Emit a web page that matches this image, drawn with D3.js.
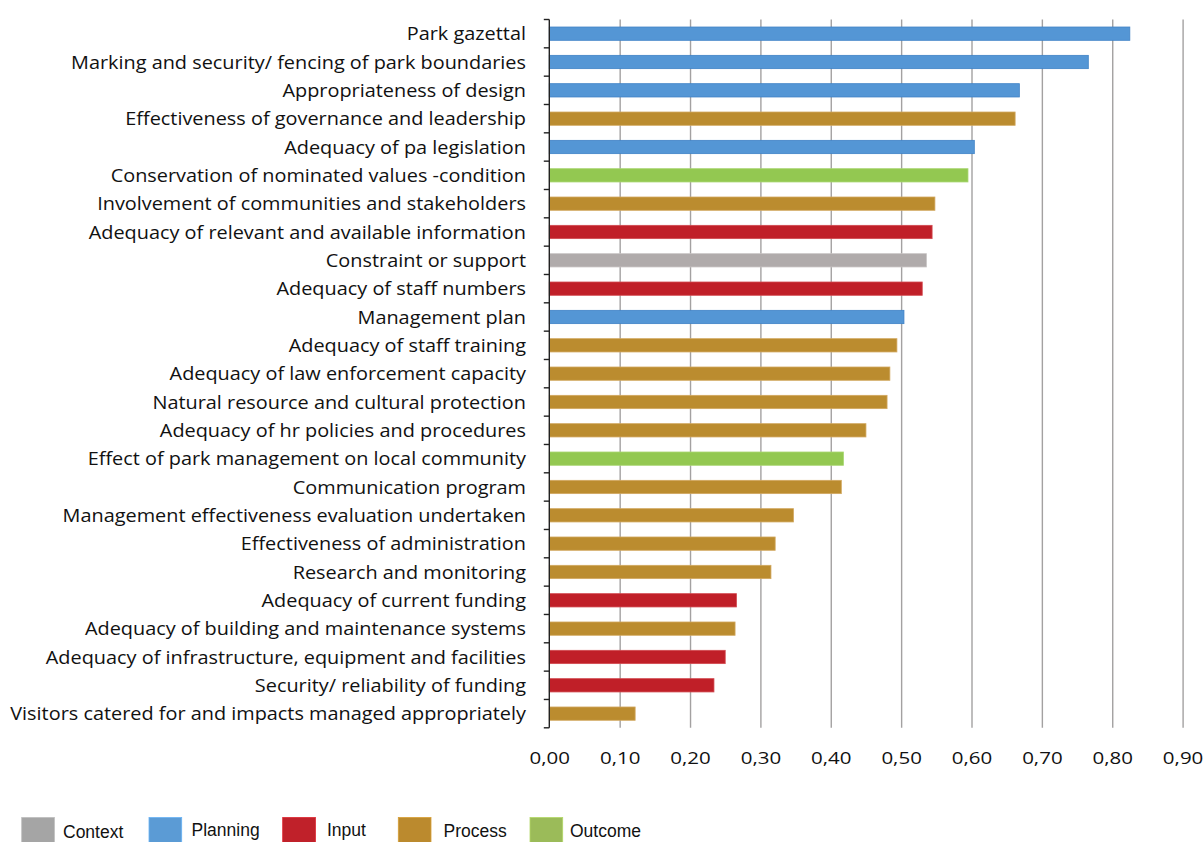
<!DOCTYPE html>
<html>
<head>
<meta charset="utf-8">
<script src="https://cdn.jsdelivr.net/npm/d3@7"></script>
<style>
  html, body { margin: 0; padding: 0; background: #ffffff; }
  svg { display: block; }
</style>
</head>
<body>
<svg id="chart" width="1203" height="842"></svg>
<script>
const categories = [
  "Park gazettal",
  "Marking and security/ fencing of park boundaries",
  "Appropriateness of design",
  "Effectiveness of governance and leadership",
  "Adequacy of pa legislation",
  "Conservation of nominated values -condition",
  "Involvement of communities and stakeholders",
  "Adequacy of relevant and available information",
  "Constraint or support",
  "Adequacy of staff numbers",
  "Management plan",
  "Adequacy of staff training",
  "Adequacy of law enforcement capacity",
  "Natural resource and cultural protection",
  "Adequacy of hr policies and procedures",
  "Effect of park management on local community",
  "Communication program",
  "Management effectiveness evaluation undertaken",
  "Effectiveness of administration",
  "Research and monitoring",
  "Adequacy of current funding",
  "Adequacy of building and maintenance systems",
  "Adequacy of infrastructure, equipment and facilities",
  "Security/ reliability of funding",
  "Visitors catered for and impacts managed appropriately"
];
const values = [0.825, 0.766, 0.668, 0.662, 0.604, 0.595, 0.548, 0.544, 0.536, 0.530,
  0.504, 0.494, 0.484, 0.480, 0.450, 0.418, 0.415, 0.347, 0.321, 0.315,
  0.266, 0.264, 0.250, 0.234, 0.122];
const groups = ["Planning", "Planning", "Planning", "Process", "Planning", "Outcome", "Process", "Input", "Context", "Input",
  "Planning", "Process", "Process", "Process", "Process", "Outcome", "Process", "Process", "Process", "Process",
  "Input", "Process", "Input", "Input", "Process"];
const legendGroups = ["Context", "Planning", "Input", "Process", "Outcome"];
const tickValues = [0, 0.1, 0.2, 0.3, 0.4, 0.5, 0.6, 0.7, 0.8, 0.9];
const tickLabels = ["0,00", "0,10", "0,20", "0,30", "0,40", "0,50", "0,60", "0,70", "0,80", "0,90"];

const barFill = { Context: "#b0abab", Planning: "#5496d5", Input: "#c01f28", Process: "#bb8c2f", Outcome: "#93c851" };
const barStroke = { Context: "#c9c5c5", Planning: "#3f82c6", Input: "#d24a50", Process: "#d2a860", Outcome: "#a9d673" };
const legendFill = { Context: "#a5a5a5", Planning: "#5b9bd5", Input: "#c0212a", Process: "#bb8a2e", Outcome: "#9bbb59" };

const svg = d3.select("#chart");
const m = { left: 549.3, right: 1182.6, top: 19.5, bottom: 727.8 };

const x = d3.scaleLinear().domain([0, 0.9]).range([m.left, m.right]);
const y = d3.scaleBand().domain(categories).range([m.top, m.bottom]).paddingInner(0).paddingOuter(0);
const bw = y.bandwidth();
const barH = 13.3;

// gridlines via axis
const grid = svg.append("g")
  .attr("transform", `translate(0,${m.bottom})`)
  .call(d3.axisBottom(x).tickValues(tickValues).tickSize(-(m.bottom - m.top)).tickFormat((d, i) => tickLabels[i]));
grid.select(".domain").remove();
grid.selectAll(".tick line").attr("stroke", "#a3a1a1").attr("stroke-width", 1.4);
grid.selectAll(".tick").filter(d => d === 0).select("line").remove();
grid.selectAll(".tick text")
  .attr("y", 0).attr("dy", null)
  .attr("font-family", "Open Sans")
  .attr("font-size", 17.2)
  .attr("fill", "#111");

(function() {
  const t = grid.selectAll(".tick text").nodes()[0];
  const w = t.getComputedTextLength();
  const sx = 40.5 / w;
  grid.selectAll(".tick text").attr("transform", `translate(0,35.8) scale(${sx},1)`);
})();

// bars
svg.append("g").selectAll("rect")
  .data(categories)
  .join("rect")
  .attr("x", x(0))
  .attr("y", (d) => y(d) + (bw - barH) / 2)
  .attr("width", (d, i) => x(values[i]) - x(0))
  .attr("height", barH)
  .attr("fill", (d, i) => barFill[groups[i]])
  .attr("stroke", (d, i) => barStroke[groups[i]])
  .attr("stroke-width", 0.8);

// left axis line with boundary ticks
const ax = svg.append("g").attr("stroke", "#222").attr("stroke-width", 1.4);
ax.append("line").attr("x1", m.left).attr("x2", m.left).attr("y1", m.top).attr("y2", m.bottom);
const bounds = categories.map(c => y(c)).concat([m.bottom]);
ax.selectAll("line.tk").data(bounds).join("line").attr("class", "tk")
  .attr("x1", m.left - 5.5).attr("x2", m.left).attr("y1", d => d).attr("y2", d => d);

// category labels
const labels = svg.append("g").selectAll("text")
  .data(categories)
  .join("text")
  .attr("text-anchor", "end")
  .attr("font-family", "Open Sans")
  .attr("font-size", 18.4)
  .attr("fill", "#111")
  .text(d => d);
(function() {
  const longest = labels.nodes()[categories.length - 1];
  const w = longest.getComputedTextLength();
  const sx = 516 / w;
  labels.attr("transform", d => `translate(526,${y(d) + bw / 2 + 6.6}) scale(${sx},1)`);
})();

// legend
const legX = [21.7, 149, 282.7, 398.3, 530];
const legTextX = [63, 191.5, 327, 443.5, 570];
const legTextY = [837.6, 835.8, 835.8, 836.6, 836.6];
const leg = svg.append("g");
legendGroups.forEach((g, i) => {
  leg.append("rect").attr("x", legX[i]).attr("y", 817.5).attr("width", 32.7).attr("height", 26)
    .attr("fill", legendFill[g]).attr("stroke", d3.color(legendFill[g]).brighter(0.4)).attr("stroke-width", 0.8);
  leg.append("text").attr("x", legTextX[i]).attr("y", legTextY[i])
    .attr("font-family", "Liberation Sans, Arial, sans-serif").attr("font-size", 17.5)
    .attr("fill", "#111").text(g);
});
</script>
</body>
</html>
